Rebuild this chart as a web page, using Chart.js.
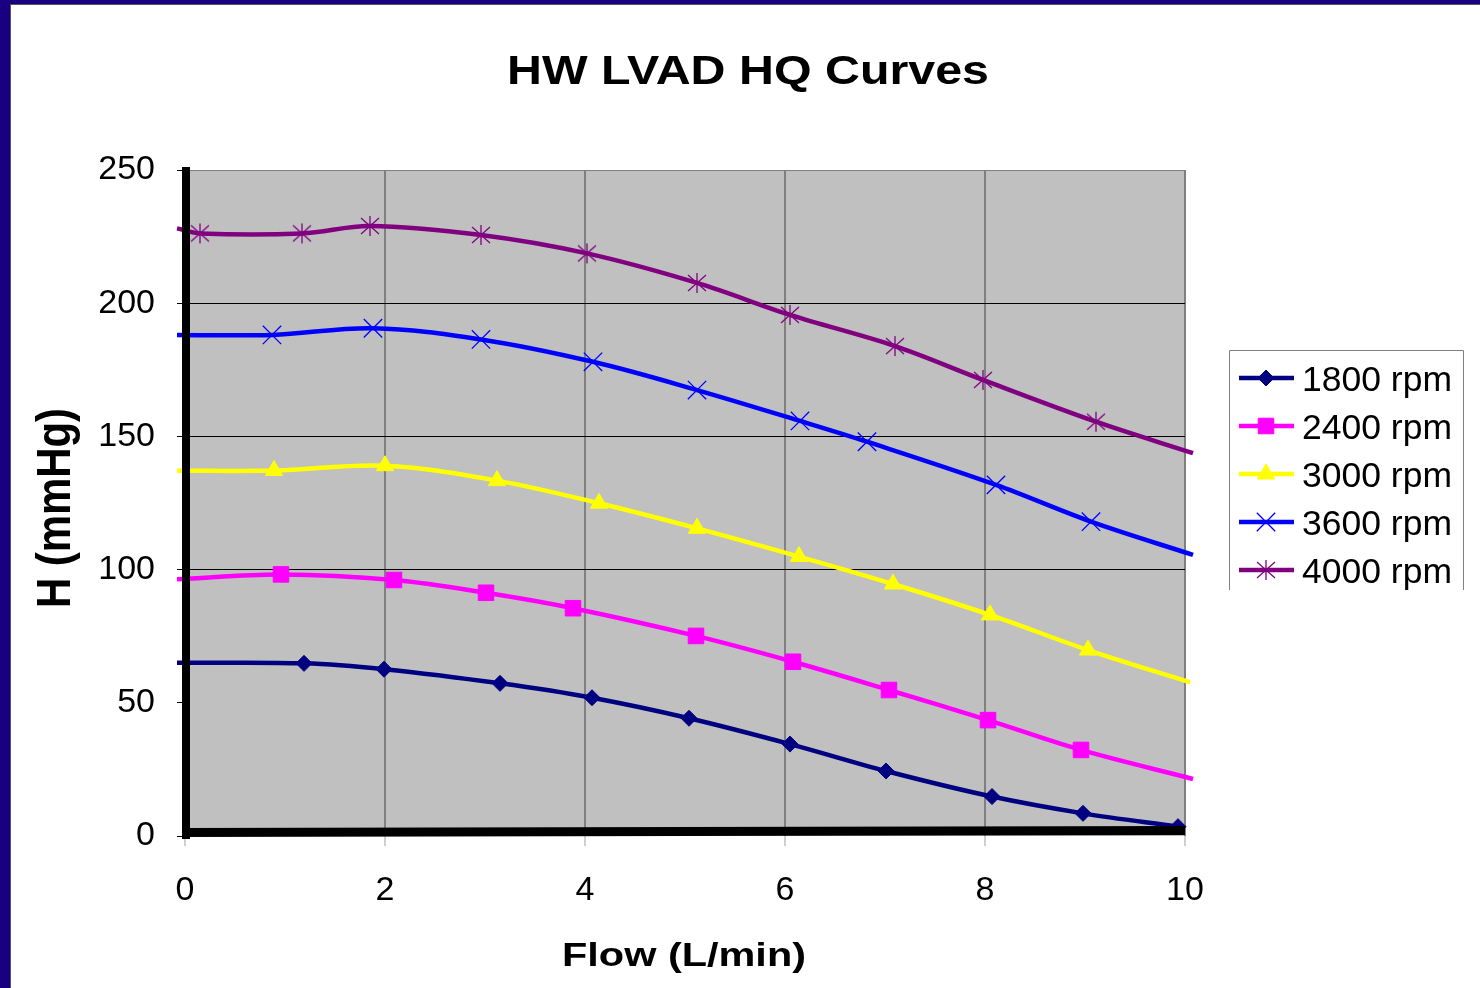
<!DOCTYPE html>
<html>
<head>
<meta charset="utf-8">
<title>HW LVAD HQ Curves</title>
<script src="https://cdn.jsdelivr.net/npm/chart.js@4.4.0/dist/chart.umd.min.js"></script>
<style>
  html, body { margin: 0; padding: 0; background: #fff; }
  #wrap { position: relative; width: 1480px; height: 988px; }
</style>
</head>
<body>
<div id="wrap"><canvas id="hq"></canvas></div>
<script>
// ── HQ curves data ──
const seriesLabels = ['1800 rpm', '2400 rpm', '3000 rpm', '3600 rpm', '4000 rpm'];

const flow1800 = [-0.08, 1.19, 1.99, 3.15, 4.07, 5.04, 6.05, 7.01, 8.07, 8.98, 9.93];
const head1800 = [65.0, 64.8, 62.6, 57.3, 51.9, 44.2, 34.5, 24.4, 14.8, 8.5, 3.5];

const flow2400 = [-0.08, 0.96, 2.09, 3.01, 3.88, 5.11, 6.08, 7.04, 8.03, 8.96, 10.08];
const head2400 = [96.4, 98.2, 96.1, 91.3, 85.5, 75.1, 65.4, 54.8, 43.5, 32.3, 21.4];

const flow3000 = [-0.08, 0.89, 2.0, 3.12, 4.14, 5.12, 6.14, 7.08, 8.05, 9.03, 10.05];
const head3000 = [137.1, 137.2, 139.0, 133.4, 124.9, 115.5, 104.9, 94.6, 83.0, 69.8, 57.7];

const flow3600 = [-0.08, 0.87, 1.88, 2.96, 4.08, 5.12, 6.15, 6.82, 8.11, 9.06, 10.08];
const head3600 = [188.1, 188.1, 190.6, 186.4, 178.0, 167.4, 155.8, 148.0, 131.8, 118.0, 105.5];

const flow4000 = [-0.08, 0.15, 1.17, 1.85, 2.96, 4.02, 5.12, 6.05, 7.1, 7.98, 9.11, 10.08];
const head4000 = [228.1, 226.2, 226.2, 229.0, 225.6, 218.7, 207.6, 195.6, 183.9, 171.2, 155.5, 143.7];

const yTicks = [0, 50, 100, 150, 200, 250];
const xTicks = [0, 2, 4, 6, 8, 10];

const FONT = "'Liberation Sans', Arial, sans-serif";

// Excel-style asterisk marker (X plus vertical bar)
function asterisk(color) {
  const c = document.createElement('canvas');
  c.width = 22; c.height = 22;
  const g = c.getContext('2d');
  g.strokeStyle = color;
  g.lineWidth = 1.3;
  g.beginPath();
  g.moveTo(2, 3); g.lineTo(20, 19);
  g.moveTo(20, 3); g.lineTo(2, 19);
  g.moveTo(11, 1); g.lineTo(11, 21);
  g.stroke();
  return c;
}

const toPoints = (xs, ys) => xs.map((x, i) => ({ x, y: ys[i] }));

function series(label, xs, ys, color, style, radius, bw) {
  return {
    label,
    data: toPoints(xs, ys),
    borderColor: color,
    backgroundColor: color,
    borderWidth: 4.5,
    tension: 0.35,
    clip: false,
    pointStyle: style,
    markerRadius: radius,
    // line runs a little past the axes; those end points carry no marker
    pointRadius: c => (c.raw && (c.raw.x < 0 || c.raw.x > 10)) ? 0 : radius,
    pointHoverRadius: radius,
    pointBackgroundColor: color,
    pointBorderColor: color,
    pointBorderWidth: bw
  };
}

// stretched bold text (the original labels are wider than plain Arial)
function stretchText(ctx, text, font, x, baseline, width, sy, rot, align) {
  ctx.save();
  ctx.font = font;
  const w = ctx.measureText(text).width;
  ctx.translate(x, baseline);
  if (rot) ctx.rotate(rot);
  ctx.scale(width / w, sy || 1);
  ctx.textAlign = align || 'center';
  ctx.textBaseline = 'alphabetic';
  ctx.fillStyle = '#000';
  ctx.fillText(text, 0, 0);
  ctx.restore();
}

const decor = {
  id: 'decor',
  beforeDraw(chart) {
    const { ctx, chartArea: a } = chart;
    ctx.save();
    ctx.fillStyle = '#fff';
    ctx.fillRect(0, 0, chart.width, chart.height);
    // navy slide frame
    ctx.fillStyle = '#190080';
    ctx.fillRect(0, 0, 10, chart.height);
    ctx.fillRect(0, 0, chart.width, 4);
    ctx.fillStyle = '#555';
    ctx.fillRect(10, 4, 1, chart.height);
    ctx.fillRect(10, 4, chart.width, 1);
    // plot area
    ctx.fillStyle = '#C0C0C0';
    ctx.fillRect(a.left, a.top, a.right - a.left, a.bottom - a.top);
    ctx.restore();
  },
  afterDatasetsDraw(chart) {
    const { ctx, chartArea: a } = chart;
    ctx.save();
    // heavy black axes over the curves
    ctx.fillStyle = '#000';
    ctx.fillRect(a.left - 3, a.top - 3, 8, a.bottom - a.top + 6);
    ctx.beginPath();
    ctx.moveTo(a.left - 3, a.bottom + 1);
    ctx.lineTo(a.right, a.bottom - 1);
    ctx.lineTo(a.right, a.bottom - 10);
    ctx.lineTo(a.left - 3, a.bottom - 8);
    ctx.closePath();
    ctx.fill();
    ctx.restore();
  },
  afterDraw(chart) {
    const { ctx } = chart;
    stretchText(ctx, 'HW LVAD HQ Curves', 'bold 39px ' + FONT, 748, 84, 482, 1.03);
    stretchText(ctx, 'Flow (L/min)', 'bold 33px ' + FONT, 684, 966, 244, 1.02);
    stretchText(ctx, 'H (mmHg)', 'bold 40px ' + FONT, 70, 508, 200, 1.19, -Math.PI / 2);

    // legend
    const bx = 1229, by = 350, bw = 234, bh = 240;
    ctx.save();
    ctx.strokeStyle = '#808080';
    ctx.lineWidth = 1;
    ctx.beginPath();
    ctx.moveTo(bx + 0.5, by + bh); ctx.lineTo(bx + 0.5, by + 0.5);
    ctx.lineTo(bx + bw + 0.5, by + 0.5); ctx.lineTo(bx + bw + 0.5, by + bh);
    ctx.stroke();
    chart.data.datasets.forEach((ds, i) => {
      const y = 378 + i * 48;
      ctx.strokeStyle = ds.borderColor;
      ctx.lineWidth = 4.5;
      ctx.beginPath();
      ctx.moveTo(1239, y); ctx.lineTo(1294, y);
      ctx.stroke();
      ctx.fillStyle = ds.pointBackgroundColor;
      ctx.strokeStyle = ds.pointBorderColor;
      ctx.lineWidth = ds.pointBorderWidth;
      Chart.helpers.drawPoint(ctx, {
        pointStyle: ds.pointStyle, radius: ds.markerRadius, borderWidth: ds.pointBorderWidth, rotation: 0
      }, 1266, y);
      stretchText(ctx, ds.label, '34px ' + FONT, 1302, y + 13, 150, 1.02, 0, 'left');
    });
    ctx.restore();
  }
};

new Chart(document.getElementById('hq'), {
  type: 'line',
  data: {
    datasets: [
      series(seriesLabels[0], flow1800, head1800, '#000080', 'rectRot', 8, 1),
      series(seriesLabels[1], flow2400, head2400, '#FF00FF', 'rect', 11, 1),
      series(seriesLabels[2], flow3000, head3000, '#FFFF00', 'triangle', 10, 1),
      series(seriesLabels[3], flow3600, head3600, '#0000FF', 'crossRot', 13, 1.3),
      series(seriesLabels[4], flow4000, head4000, '#800080', asterisk('#800080'), 10, 1)
    ]
  },
  options: {
    responsive: true,
    maintainAspectRatio: false,
    animation: false,
    events: [],
    layout: { padding: { left: 10, top: 170, right: 295, bottom: 0 } },
    plugins: {
      legend: { display: false },
      title: { display: false },
      tooltip: { enabled: false }
    },
    scales: {
      x: {
        type: 'linear',
        min: 0,
        max: 10,
        afterFit: s => { s.height = 152; },
        afterBuildTicks: s => { s.ticks = xTicks.map(v => ({ value: v })); },
        border: { display: false },
        grid: {
          color: '#808080',
          lineWidth: 2,
          tickLength: 10,
          tickColor: '#A0A0A0',
          tickWidth: 1
        },
        ticks: {
          color: '#000',
          padding: 24,
          maxRotation: 0,
          font: { size: 34, family: FONT }
        }
      },
      y: {
        type: 'linear',
        min: 0,
        max: 250,
        afterFit: s => { s.width = 175; },
        afterBuildTicks: s => { s.ticks = yTicks.map(v => ({ value: v })); },
        border: { display: false },
        grid: {
          color: c => {
            const v = c.tick && c.tick.value;
            if (v === 250) return '#808080';
            if (v === 100 || v === 150 || v === 200) return '#000';
            return 'rgba(0,0,0,0)';
          },
          lineWidth: 1,
          tickLength: 8,
          tickColor: '#000',
          tickWidth: 1
        },
        ticks: {
          color: '#000',
          padding: 22,
          font: { size: 34, family: FONT }
        }
      }
    }
  },
  plugins: [decor]
});
</script>
</body>
</html>
